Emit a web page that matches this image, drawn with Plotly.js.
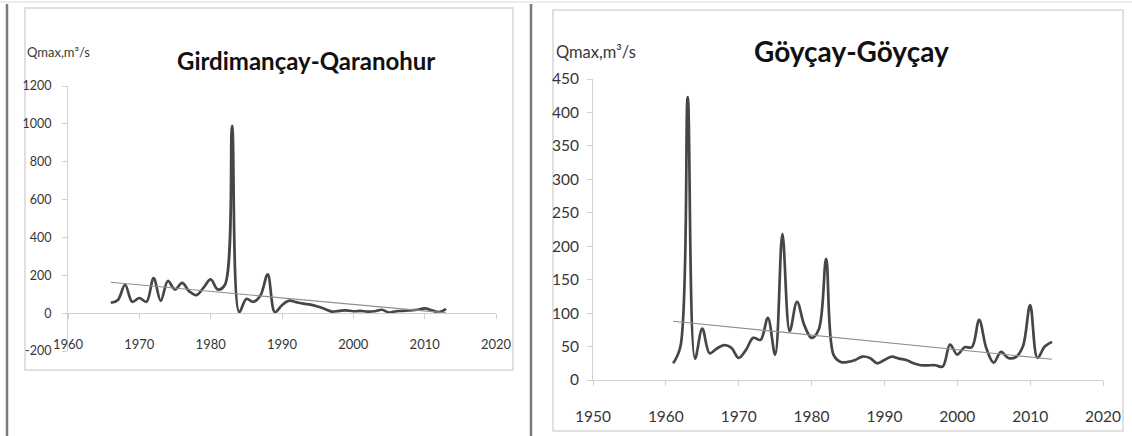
<!DOCTYPE html>
<html>
<head>
<meta charset="utf-8">
<script src="https://cdn.plot.ly/plotly-3.0.1.min.js"></script>
<style>
  html, body { margin: 0; padding: 0; background: #ffffff; }
  #chart { width: 1132px; height: 436px; }
</style>
</head>
<body>
<div id="chart"></div>
<script>
// ---------- DATA ----------
const leftTitle = "Girdimançay-Qaranohur";
const rightTitle = "Göyçay-Göyçay";
const yAxisLabel = "Qmax,m³/s";

const leftYears = [1966, 1967, 1968, 1969, 1970, 1971, 1972, 1973, 1974, 1975,
  1976, 1977, 1978, 1979, 1980, 1981, 1982, 1983, 1984, 1985,
  1986, 1987, 1988, 1989, 1990, 1991, 1992, 1993, 1994, 1995,
  1996, 1997, 1998, 1999, 2000, 2001, 2002, 2003, 2004, 2005,
  2006, 2007, 2008, 2009, 2010, 2011, 2012, 2013];
const leftQmax = [55, 70, 150, 60, 80, 60, 185, 65, 170, 125,
  160, 115, 95, 135, 178, 125, 150, 990, 5, 75,
  60, 95, 205, 5, 42, 66, 58, 50, 45, 35,
  22, 8, 12, 15, 10, 12, 8, 10, 18, 3,
  10, 12, 15, 18, 25, 15, 5, 22];

const rightYears = [1961, 1962, 1963, 1964, 1965, 1966, 1967, 1968, 1969, 1970,
  1971, 1972, 1973, 1974, 1975, 1976, 1977, 1978, 1979, 1980,
  1981, 1982, 1983, 1984, 1985, 1986, 1987, 1988, 1989, 1990,
  1991, 1992, 1993, 1994, 1995, 1996, 1997, 1998, 1999, 2000,
  2001, 2002, 2003, 2004, 2005, 2006, 2007, 2008, 2009, 2010,
  2011, 2012, 2013];
const rightQmax = [25, 50, 423, 32, 77, 40, 47, 52, 48, 33,
  45, 63, 60, 93, 38, 218, 73, 117, 82, 63,
  76, 181, 38, 27, 27, 30, 35, 33, 25, 30,
  35, 32, 30, 25, 22, 22, 22, 20, 53, 38,
  49, 49, 90, 47, 26, 42, 33, 34, 50, 112,
  33, 50, 57];

const leftXTicks = [1960, 1970, 1980, 1990, 2000, 2010, 2020];
const leftYTicks = [-200, 0, 200, 400, 600, 800, 1000, 1200];
const rightXTicks = [1950, 1960, 1970, 1980, 1990, 2000, 2010, 2020];
const rightYTicks = [0, 50, 100, 150, 200, 250, 300, 350, 400, 450];

// ---------- helpers ----------
function linearTrend(xs, ys) {
  const n = xs.length;
  let sx = 0, sy = 0, sxx = 0, sxy = 0;
  for (let i = 0; i < n; i++) { sx += xs[i]; sy += ys[i]; sxx += xs[i]*xs[i]; sxy += xs[i]*ys[i]; }
  const b = (n*sxy - sx*sy) / (n*sxx - sx*sx);
  const a = (sy - b*sx) / n;
  const x0 = xs[0], x1 = xs[n-1];
  return { x: [x0, x1], y: [a + b*x0, a + b*x1] };
}
const W = 1132, H = 436;
const px = v => v / W;
const py = v => 1 - v / H;

const FONT = "Lato, Roboto, sans-serif";
const lineColor = "#464646";
const axisGrey = "#d0d0d0";
const tickText = "#363636";

const leftTrend = linearTrend(leftYears, leftQmax);
const rightTrend = linearTrend(rightYears, rightQmax);

const traces = [
  { x: leftYears, y: leftQmax, xaxis: "x", yaxis: "y", type: "scatter", mode: "lines",
    line: { color: lineColor, width: 2.7, shape: "spline", smoothing: 1 }, hoverinfo: "x+y" },
  { x: leftTrend.x, y: leftTrend.y, xaxis: "x", yaxis: "y", type: "scatter", mode: "lines",
    line: { color: "#8f8f8f", width: 1.1 }, hoverinfo: "skip" },
  { x: rightYears, y: rightQmax, xaxis: "x2", yaxis: "y2", type: "scatter", mode: "lines",
    line: { color: lineColor, width: 2.7, shape: "spline", smoothing: 1 }, hoverinfo: "x+y" },
  { x: rightTrend.x, y: rightTrend.y, xaxis: "x2", yaxis: "y2", type: "scatter", mode: "lines",
    line: { color: "#8f8f8f", width: 1.1 }, hoverinfo: "skip" }
];

const commonAxis = {
  showgrid: false, zeroline: false, showline: true, linecolor: axisGrey, linewidth: 1,
  ticks: "outside", ticklen: 5, tickcolor: axisGrey, tickwidth: 1, fixedrange: true
};

const layout = {
  width: W, height: H,
  margin: { l: 0, r: 0, t: 0, b: 0 },
  paper_bgcolor: "#ffffff", plot_bgcolor: "rgba(0,0,0,0)",
  showlegend: false,
  font: { family: FONT, color: tickText },
  xaxis: Object.assign({}, commonAxis, {
    domain: [px(68), px(496)], range: [leftXTicks[0], leftXTicks[leftXTicks.length-1]],
    tickmode: "array", tickvals: leftXTicks, ticktext: leftXTicks.map(String),
    anchor: "free", position: py(313),
    tickfont: { family: FONT, size: 13, color: tickText }, ticklabelstandoff: 14
  }),
  yaxis: Object.assign({}, commonAxis, {
    domain: [py(351), py(86)], range: [leftYTicks[0], leftYTicks[leftYTicks.length-1]],
    tickmode: "array", tickvals: leftYTicks, ticktext: leftYTicks.map(String),
    anchor: "x",
    tickfont: { family: FONT, size: 12.5, color: tickText }, ticklabelstandoff: 8
  }),
  xaxis2: Object.assign({}, commonAxis, {
    domain: [px(593), px(1103)], range: [rightXTicks[0], rightXTicks[rightXTicks.length-1]],
    tickmode: "array", tickvals: rightXTicks, ticktext: rightXTicks.map(String),
    anchor: "y2",
    tickfont: { family: FONT, size: 15.5, color: tickText }, ticklabelstandoff: 17
  }),
  yaxis2: Object.assign({}, commonAxis, {
    domain: [py(380), py(79)], range: [rightYTicks[0], rightYTicks[rightYTicks.length-1]],
    tickmode: "array", tickvals: rightYTicks, ticktext: rightYTicks.map(String),
    anchor: "x2",
    tickfont: { family: FONT, size: 15.5, color: tickText }, ticklabelstandoff: 5
  }),
  shapes: [
    // chart frames
    { type: "rect", xref: "paper", yref: "paper", x0: px(25), x1: px(513), y0: py(370), y1: py(8),
      line: { color: "#d6d6d6", width: 1.5 }, fillcolor: "rgba(0,0,0,0)", layer: "below" },
    { type: "rect", xref: "paper", yref: "paper", x0: px(553), x1: px(1123), y0: py(431), y1: py(10),
      line: { color: "#d6d6d6", width: 1.5 }, fillcolor: "rgba(0,0,0,0)", layer: "below" },
    // page dividers
    { type: "line", xref: "paper", yref: "paper", x0: px(7), x1: px(7), y0: py(436), y1: py(4),
      line: { color: "#7a7a7a", width: 2.5 } },
    { type: "line", xref: "paper", yref: "paper", x0: px(531), x1: px(531), y0: py(436), y1: py(4),
      line: { color: "#7a7a7a", width: 2.5 } },
    { type: "line", xref: "paper", yref: "paper", x0: 0, x1: 1, y0: py(2), y1: py(2),
      line: { color: "#ececec", width: 2 } }
  ],
  annotations: [
    { text: "<b>" + leftTitle + "</b>", xref: "paper", yref: "paper", x: px(306), y: py(60),
      xanchor: "center", yanchor: "middle", showarrow: false,
      font: { family: FONT, size: 24, color: "#111111" } },
    { text: "<b>" + rightTitle + "</b>", xref: "paper", yref: "paper", x: px(851), y: py(51),
      xanchor: "center", yanchor: "middle", showarrow: false,
      font: { family: FONT, size: 28, color: "#111111" } },
    { text: yAxisLabel, xref: "paper", yref: "paper", x: px(25), y: py(52),
      xanchor: "left", yanchor: "middle", showarrow: false,
      font: { family: FONT, size: 13, color: "#3a3a3a" } },
    { text: yAxisLabel, xref: "paper", yref: "paper", x: px(554), y: py(52),
      xanchor: "left", yanchor: "middle", showarrow: false,
      font: { family: FONT, size: 16.5, color: "#3a3a3a" } }
  ]
};

Plotly.newPlot("chart", traces, layout, { staticPlot: true, displayModeBar: false });
</script>
</body>
</html>
